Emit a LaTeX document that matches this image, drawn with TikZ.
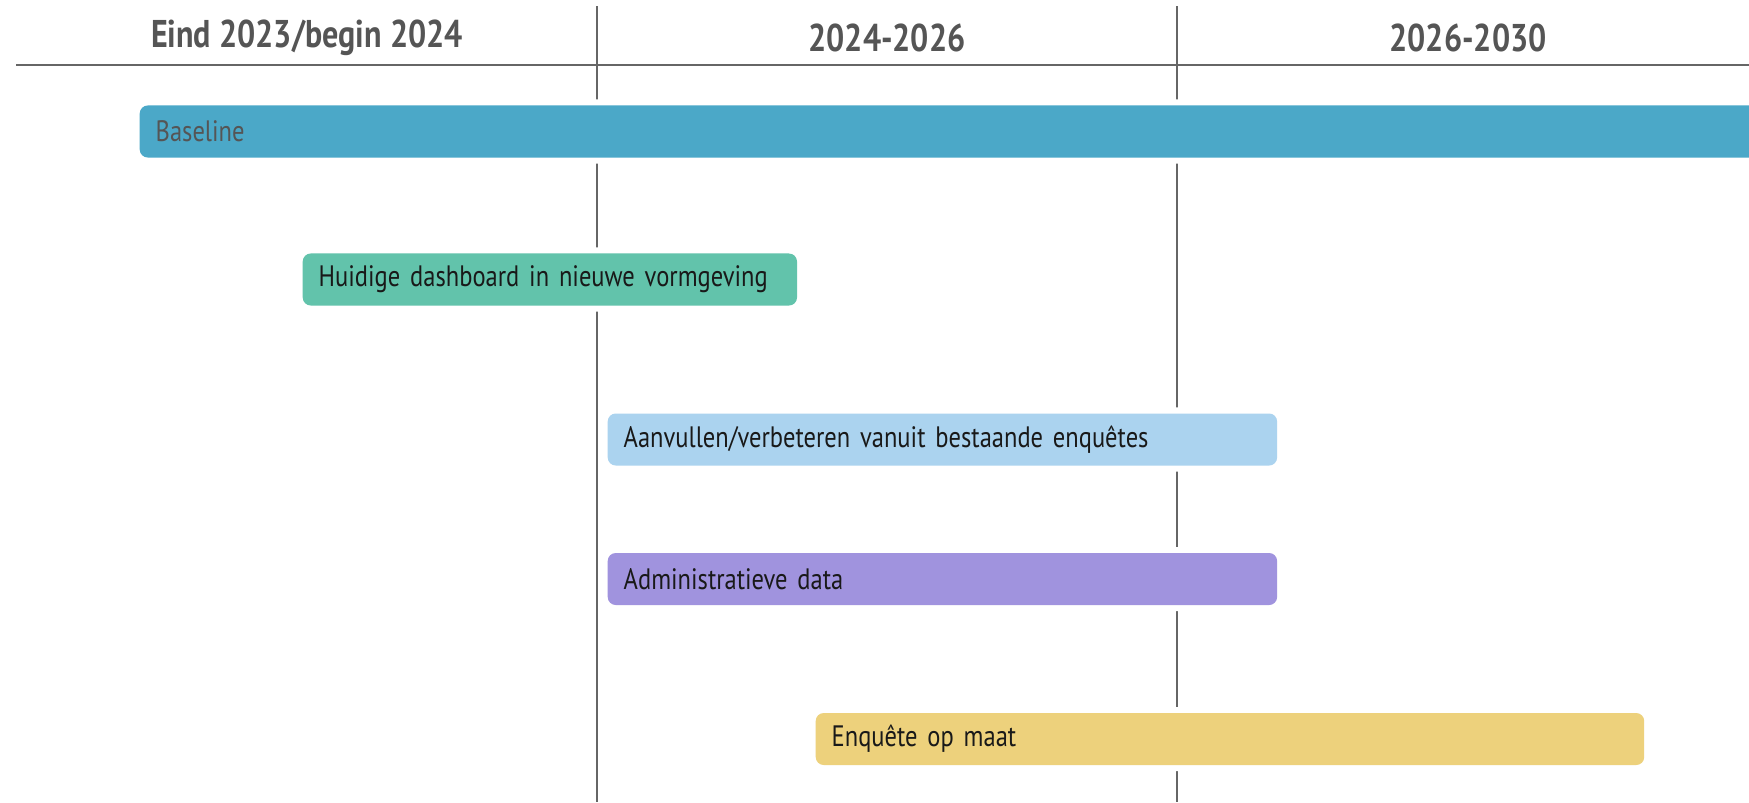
\documentclass[tikz,border=0pt]{standalone}
\usepackage{fontspec}
\setmainfont[FakeStretch=0.83]{PT Sans}
\newfontfamily\headfont[FakeStretch=0.83]{PT Sans}
\definecolor{gridgray}{HTML}{666666}
\definecolor{headgray}{HTML}{555555}
\definecolor{barblue}{HTML}{4BA8C8}
\definecolor{barteal}{HTML}{62C3AB}
\definecolor{barsky}{HTML}{ABD3EF}
\definecolor{barlilac}{HTML}{A093DE}
\definecolor{barsand}{HTML}{EDD17C}
\tikzset{
  period/.style={
    text=headgray,
    font=\headfont\bfseries\fontsize{11}{13}\selectfont
  },
  bar/.style={
    preaction={draw=white, line width=0.12cm},
    anchor=west,
    rounded corners=0.08cm,
    minimum height=0.52cm,
    inner ysep=0pt,
    inner xsep=0.16cm,
    align=left,
    text=black!90,
    font=\fontsize{8.4}{10}\selectfont
  }
}
\begin{document}
\begin{tikzpicture}[x=0.01cm,y=-0.01cm]
  \useasboundingbox (0,0) rectangle (1749,802);
  \clip (0,0) rectangle (1749,802);
  % time axis
  \draw[gridgray, line width=0.7pt] (16,65) -- (1749,65);
  \foreach \x in {597,1177}{
    \draw[gridgray, line width=0.6pt] (\x,6) -- (\x,802);
  }
  \node[period] (kop1) at (307,38) {Eind 2023/begin 2024};
  \node[period] (kop2) at (887,38) {2024-2026};
  \node[period] (kop3) at (1468,38) {2026-2030};
  % bars
  \node[bar, fill=barblue, text=headgray, text width=16.29cm] (baseline) at (139,131.5) {Baseline};
  \node[bar, fill=barteal, text width=4.62cm] (dashboard) at (302,279.5) {Huidige dashboard in nieuwe vormgeving};
  \node[bar, fill=barsky, text width=6.37cm] (aanvullen) at (607,439.5) {Aanvullen/verbeteren vanuit bestaande enquêtes};
  \node[bar, fill=barlilac, text width=6.37cm] (admin) at (607,579) {Administratieve data};
  \node[bar, fill=barsand, text width=7.96cm] (enquete) at (815,739) {Enquête op maat};
\end{tikzpicture}
\end{document}
